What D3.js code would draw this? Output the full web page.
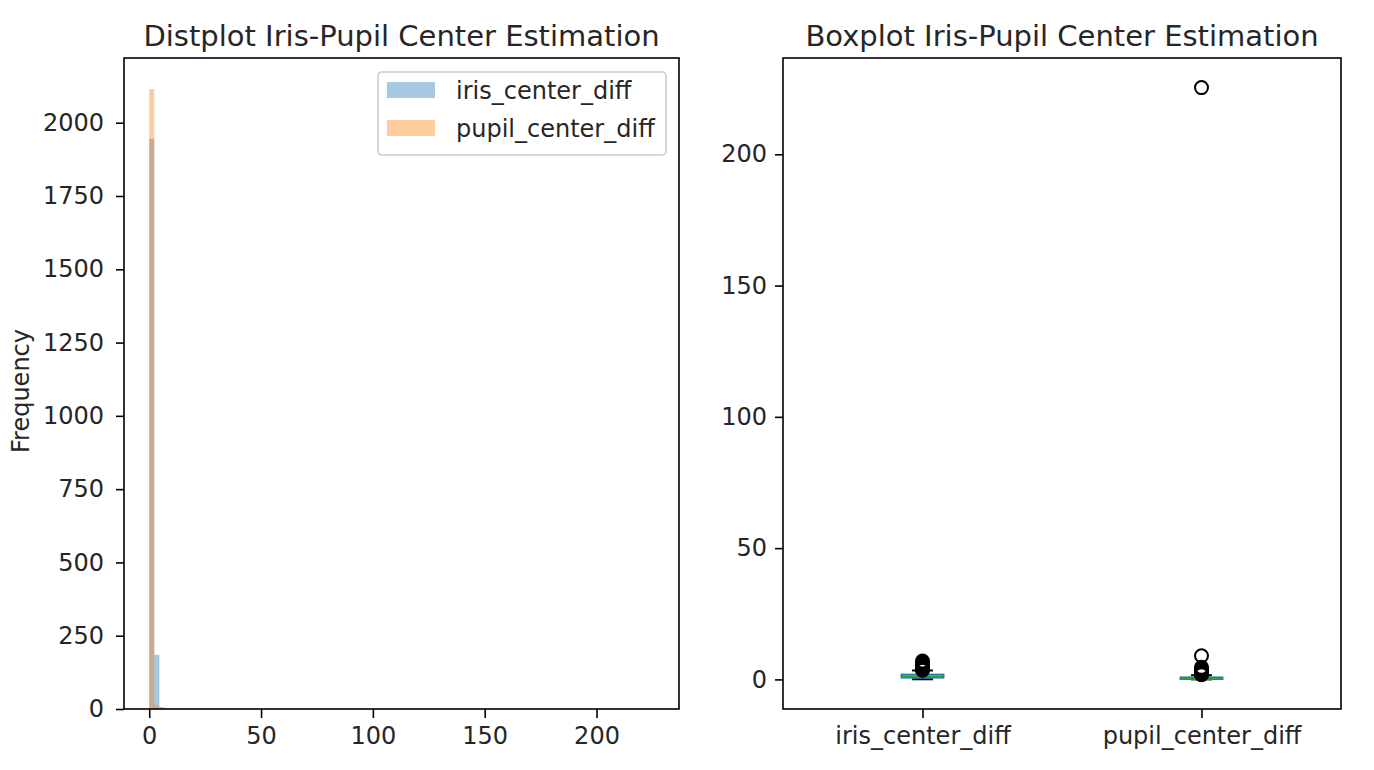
<!DOCTYPE html>
<html>
<head>
<meta charset="utf-8">
<script src="https://cdn.jsdelivr.net/npm/d3@7"></script>
<style>
  body { margin: 0; background: #fff; }
  text { font-family: "DejaVu Sans", sans-serif; fill: #262626; }
</style>
</head>
<body>
<svg id="chart" width="1374" height="770"></svg>
<script>
// histogram: 100 equal bins between histLo and histHi, only non-empty bins listed
var histLo = 0, histHi = 225.6, histBins = 100;
var seriesNames = ["iris_center_diff", "pupil_center_diff"];
var irisBins = [0, 1, 2, 3];
var irisCounts = [1945, 185, 6, 2];
var pupilBins = [0, 1, 2, 3, 99];
var pupilCounts = [2115, 14, 5, 1, 1];

// boxplot stats
var boxNames = ["iris_center_diff", "pupil_center_diff"];
var boxQ1 = [0.7, 0.15];
var boxMedian = [1.0, 0.35];
var boxQ3 = [1.8, 0.75];
var boxLowWhisker = [0.05, 0.0];
var boxHighWhisker = [3.4, 1.6];
var irisOutliers = [3.5, 3.8, 4.1, 4.4, 4.7, 5.0, 5.3, 5.7, 6.1, 6.5, 7.0];
var pupilOutliers = [1.8, 2.1, 2.4, 2.7, 3.0, 3.4, 3.8, 4.2, 4.6, 9.0, 225.4];

var yTicksHist = [0, 250, 500, 750, 1000, 1250, 1500, 1750, 2000];
var xTicksHist = [0, 50, 100, 150, 200];
var yTicksBox = [0, 50, 100, 150, 200];

var blue = "#1f77b4", orange = "#ff7f0e", green = "#2ca02c";
var tickFont = "24px", titleFont = "29px";
var svg = d3.select("#chart");

function frame(g, w, h) {
	g.append("rect")
		.attr("width", w).attr("height", h)
		.attr("fill", "none").attr("stroke", "#000").attr("stroke-width", 1.6);
}

function styleAxis(ax) {
	ax.select(".domain").remove();
	ax.selectAll(".tick line").attr("stroke", "#000").attr("stroke-width", 1.6);
	ax.selectAll(".tick text")
		.style("font-family", "DejaVu Sans")
		.style("font-size", tickFont)
		.attr("fill", "#262626");
}

// ---- left panel: overlaid histograms
var L = { x: 124, y: 58, w: 555, h: 651 };
var gL = svg.append("g").attr("transform", "translate(" + L.x + "," + L.y + ")");

var xH = d3.scaleLinear().domain([histLo - 0.05 * (histHi - histLo), histHi + 0.05 * (histHi - histLo)]).range([0, L.w]);
var yH = d3.scaleLinear().domain([0, 2115 * 1.05]).range([L.h, 0]);
var binW = (histHi - histLo) / histBins;

function drawBars(bins, counts, color) {
	gL.append("g").selectAll("rect")
		.data(bins)
		.enter()
		.append("rect")
		.attr("x", function (b) { return xH(histLo + b * binW); })
		.attr("width", function (b) { return xH(histLo + (b + 1) * binW) - xH(histLo + b * binW); })
		.attr("y", function (b, i) { return yH(counts[i]); })
		.attr("height", function (b, i) { return L.h - yH(counts[i]); })
		.attr("fill", color)
		.attr("fill-opacity", 0.4);
}
drawBars(irisBins, irisCounts, blue);
drawBars(pupilBins, pupilCounts, orange);

var axLy = gL.append("g").call(d3.axisLeft(yH).tickValues(yTicksHist).tickSize(8).tickPadding(12).tickFormat(d3.format("d")));
styleAxis(axLy);
var axLx = gL.append("g").attr("transform", "translate(0," + L.h + ")")
	.call(d3.axisBottom(xH).tickValues(xTicksHist).tickSize(9).tickPadding(9).tickFormat(d3.format("d")));
styleAxis(axLx);
frame(gL, L.w, L.h);

gL.append("text")
	.attr("x", L.w / 2).attr("y", -12)
	.attr("text-anchor", "middle")
	.style("font-size", titleFont)
	.text("Distplot Iris-Pupil Center Estimation");

svg.append("text")
	.attr("transform", "translate(29," + 391 + ") rotate(-90)")
	.attr("text-anchor", "middle")
	.style("font-size", tickFont)
	.text("Frequency");

// legend
var leg = gL.append("g").attr("transform", "translate(254,14)");
leg.append("rect")
	.attr("width", 288).attr("height", 83).attr("rx", 4)
	.attr("fill", "#fff").attr("fill-opacity", 0.8)
	.attr("stroke", "#cccccc").attr("stroke-width", 1.6);
[blue, orange].forEach(function (c, i) {
	leg.append("rect")
		.attr("x", 9).attr("y", 10 + i * 38)
		.attr("width", 48).attr("height", 16)
		.attr("fill", c).attr("fill-opacity", 0.4);
	leg.append("text")
		.attr("x", 78).attr("y", 27 + i * 38)
		.style("font-size", tickFont)
		.text(seriesNames[i]);
});

// ---- right panel: boxplots
var R = { x: 783, y: 58, w: 558, h: 651 };
var gR = svg.append("g").attr("transform", "translate(" + R.x + "," + R.y + ")");

var allMax = d3.max(pupilOutliers), allMin = 0;
var yB = d3.scaleLinear().domain([allMin - 0.05 * (allMax - allMin), allMax + 0.05 * (allMax - allMin)]).range([R.h, 0]);
var xB = d3.scaleLinear().domain([0.5, 2.5]).range([0, R.w]);
var halfBox = (xB(1.075) - xB(1));
var halfCap = halfBox / 2;
var outlierSets = [irisOutliers, pupilOutliers];

boxNames.forEach(function (name, i) {
	var cx = xB(i + 1);
	var g = gR.append("g");
	// whiskers
	g.append("line").attr("x1", cx).attr("x2", cx).attr("y1", yB(boxQ1[i])).attr("y2", yB(boxLowWhisker[i]))
		.attr("stroke", blue).attr("stroke-width", 2);
	g.append("line").attr("x1", cx).attr("x2", cx).attr("y1", yB(boxQ3[i])).attr("y2", yB(boxHighWhisker[i]))
		.attr("stroke", blue).attr("stroke-width", 2);
	// caps
	[boxLowWhisker[i], boxHighWhisker[i]].forEach(function (v) {
		g.append("line").attr("x1", cx - halfCap).attr("x2", cx + halfCap).attr("y1", yB(v)).attr("y2", yB(v))
			.attr("stroke", "#000").attr("stroke-width", 2);
	});
	// box
	g.append("rect")
		.attr("x", cx - halfBox).attr("width", 2 * halfBox)
		.attr("y", yB(boxQ3[i])).attr("height", yB(boxQ1[i]) - yB(boxQ3[i]))
		.attr("fill", "none").attr("stroke", blue).attr("stroke-width", 2);
	// median
	g.append("line").attr("x1", cx - halfBox).attr("x2", cx + halfBox)
		.attr("y1", yB(boxMedian[i])).attr("y2", yB(boxMedian[i]))
		.attr("stroke", green).attr("stroke-width", 2);
	// fliers
	g.selectAll("circle").data(outlierSets[i]).enter()
		.append("circle")
		.attr("cx", cx).attr("cy", function (d) { return yB(d); })
		.attr("r", 6.5)
		.attr("fill", "none").attr("stroke", "#000").attr("stroke-width", 2);
});

var axRy = gR.append("g").call(d3.axisLeft(yB).tickValues(yTicksBox).tickSize(8).tickPadding(8).tickFormat(d3.format("d")));
styleAxis(axRy);
var axRx = gR.append("g").attr("transform", "translate(0," + R.h + ")")
	.call(d3.axisBottom(xB).tickValues([1, 2]).tickSize(9).tickPadding(9).tickFormat(function (d) { return boxNames[d - 1]; }));
styleAxis(axRx);
frame(gR, R.w, R.h);

gR.append("text")
	.attr("x", R.w / 2).attr("y", -12)
	.attr("text-anchor", "middle")
	.style("font-size", titleFont)
	.text("Boxplot Iris-Pupil Center Estimation");
</script>
</body>
</html>
